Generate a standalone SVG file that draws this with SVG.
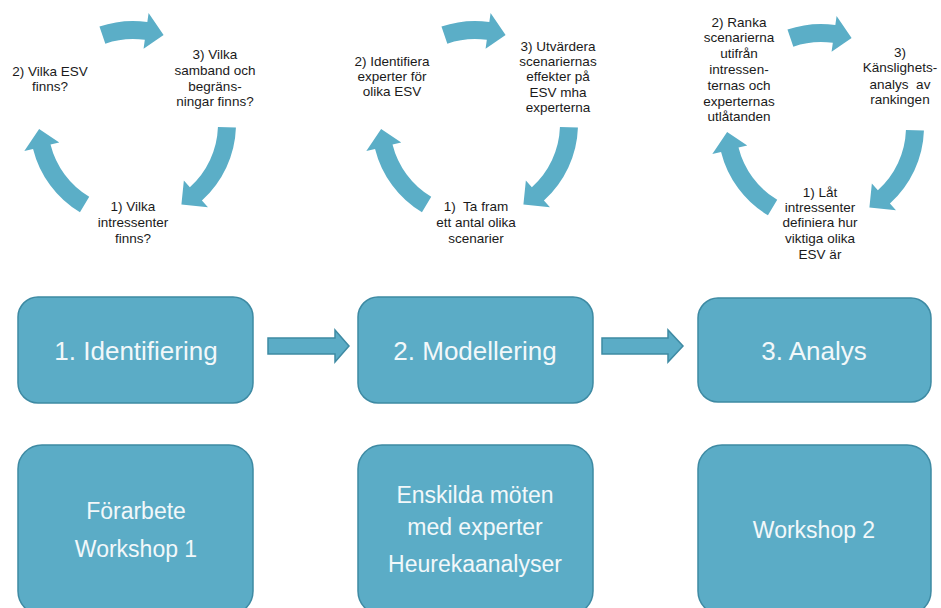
<svg xmlns="http://www.w3.org/2000/svg" xmlns:xlink="http://www.w3.org/1999/xlink" width="941" height="608" viewBox="0 0 941 608">
<style>
.box{fill:#5BACC6;stroke:#3E8AA3;stroke-width:1.5}
.arc{fill:#5BAEC7}
.conn{fill:#5BACC6;stroke:#3E8AA3;stroke-width:1.5}
.bt{font-family:"Liberation Sans",Arial,sans-serif;fill:#F2F8FA;text-anchor:middle}
.big{font-size:26px}
.mid{font-size:23px}
.lab{font-family:"Liberation Sans",Arial,sans-serif;font-size:13.5px;fill:#1a1a1a;text-anchor:middle;white-space:pre}
</style>
<defs>
<path id="a38" d="M103,0 A103,103 0 0 1 91.77,46.76 L99.79,50.85 L74.07,57.87 L67.72,34.50 L75.74,38.59 A85,85 0 0 0 85,0 Z"/>
<path id="a57" d="M103,0 A103,103 0 0 1 71.55,74.09 L77.81,80.56 L51.19,78.84 L52.80,54.67 L59.05,61.14 A85,85 0 0 0 85,0 Z"/>
<path id="a56" d="M103,0 A103,103 0 0 1 72.83,72.83 L79.20,79.20 L52.56,77.93 L53.74,53.74 L60.10,60.10 A85,85 0 0 0 85,0 Z"/>
</defs>
<rect width="941" height="608" fill="#ffffff"/>

<g id="connectors">
  <g id="cycle1" class="arc">
    <use href="#a38" transform="translate(133,124) rotate(-109)"/>
    <use href="#a57" transform="translate(133,124) rotate(2)"/>
    <use href="#a56" transform="translate(133,124) rotate(121)"/>
  </g>
  <g id="cycle2" class="arc">
    <use href="#a38" transform="translate(475,124) rotate(-109)"/>
    <use href="#a57" transform="translate(475,124) rotate(2)"/>
    <use href="#a56" transform="translate(475,124) rotate(121)"/>
  </g>
  <g id="cycle3" class="arc">
    <use href="#a38" transform="translate(821,127) rotate(-109)"/>
    <use href="#a57" transform="translate(821,127) rotate(2)"/>
    <use href="#a56" transform="translate(821,127) rotate(121)"/>
  </g>
  <path class="conn" d="M268,338 L335,338 L335,330 L349,346 L335,362 L335,354 L268,354 Z"/>
  <path class="conn" d="M602,338 L668,338 L668,330 L683,346 L668,362 L668,354 L602,354 Z"/>
</g>

<g id="labels1">
  <text class="lab" x="50" y="76">2) Vilka ESV</text>
  <text class="lab" x="50" y="91">finns?</text>
  <text class="lab" x="215" y="59">3) Vilka</text>
  <text class="lab" x="215" y="75">samband och</text>
  <text class="lab" x="215" y="91">begräns-</text>
  <text class="lab" x="215" y="106">ningar finns?</text>
  <text class="lab" x="133" y="211">1) Vilka</text>
  <text class="lab" x="133" y="227">intressenter</text>
  <text class="lab" x="133" y="243">finns?</text>
</g>
<g id="labels2">
  <text class="lab" x="392" y="66">2) Identifiera</text>
  <text class="lab" x="392" y="81">experter för</text>
  <text class="lab" x="392" y="96">olika ESV</text>
  <text class="lab" x="558" y="51">3) Utvärdera</text>
  <text class="lab" x="558" y="66">scenariernas</text>
  <text class="lab" x="558" y="81">effekter på</text>
  <text class="lab" x="558" y="97">ESV mha</text>
  <text class="lab" x="558" y="112">experterna</text>
  <text class="lab" x="476" y="211">1)  Ta fram</text>
  <text class="lab" x="476" y="227">ett antal olika</text>
  <text class="lab" x="476" y="243">scenarier</text>
</g>
<g id="labels3">
  <text class="lab" x="739" y="27">2) Ranka</text>
  <text class="lab" x="739" y="42">scenarierna</text>
  <text class="lab" x="739" y="58">utifrån</text>
  <text class="lab" x="739" y="74">intressen-</text>
  <text class="lab" x="739" y="90">ternas och</text>
  <text class="lab" x="739" y="106">experternas</text>
  <text class="lab" x="739" y="121">utlåtanden</text>
  <text class="lab" x="900" y="57">3)</text>
  <text class="lab" x="900" y="72">Känslighets-</text>
  <text class="lab" x="900" y="89">analys  av</text>
  <text class="lab" x="900" y="104">rankingen</text>
  <text class="lab" x="820" y="197">1) Låt</text>
  <text class="lab" x="820" y="212">intressenter</text>
  <text class="lab" x="820" y="227">definiera hur</text>
  <text class="lab" x="820" y="243">viktiga olika</text>
  <text class="lab" x="820" y="259">ESV är</text>
</g>

<g id="node-identifiering">
  <rect class="box" x="18" y="297" width="235" height="106" rx="20"/>
  <text class="bt big" x="136" y="360">1. Identifiering</text>
</g>
<g id="node-modellering">
  <rect class="box" x="358" y="297" width="235" height="106" rx="20"/>
  <text class="bt big" x="475" y="360">2. Modellering</text>
</g>
<g id="node-analys">
  <rect class="box" x="698" y="298" width="233" height="104" rx="20"/>
  <text class="bt big" x="814" y="360">3. Analys</text>
</g>
<g id="node-forarbete">
  <rect class="box" x="18" y="445" width="235" height="170" rx="24"/>
  <text class="bt mid" x="136" y="519">Förarbete</text>
  <text class="bt mid" x="136" y="557">Workshop 1</text>
</g>
<g id="node-enskilda">
  <rect class="box" x="358" y="445" width="235" height="170" rx="24"/>
  <text class="bt mid" x="475" y="503">Enskilda möten</text>
  <text class="bt mid" x="475" y="535">med experter</text>
  <text class="bt mid" x="475" y="572">Heurekaanalyser</text>
</g>
<g id="node-workshop2">
  <rect class="box" x="698" y="445" width="233" height="170" rx="24"/>
  <text class="bt mid" x="814" y="538">Workshop 2</text>
</g>
</svg>
